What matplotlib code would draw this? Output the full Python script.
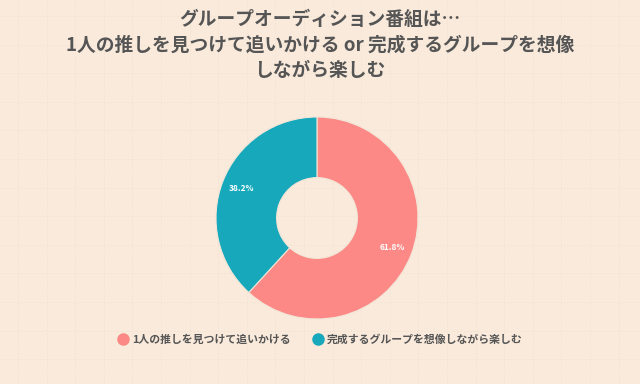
import numpy as np
import matplotlib.pyplot as plt
from matplotlib.lines import Line2D

plt.rcParams['font.family'] = ['Noto Sans CJK JP', 'DejaVu Sans']

# ── DATA ──────────────────────────────────────────────────────────────────────
TITLE = "グループオーディション番組は…\n1人の推しを見つけて追いかける or 完成するグループを想像\nしながら楽しむ"
LABELS = ["1人の推しを見つけて追いかける", "完成するグループを想像しながら楽しむ"]
VALUES = [61.8, 38.2]
COLORS = ["#fc8985", "#17a8bb"]

BG = "#f9eadb"
TEXT = "#555555"

fig = plt.figure(figsize=(6.4, 3.84), dpi=100)
fig.patch.set_facecolor(BG)

# faint background grid
bg = fig.add_axes([0, 0, 1, 1])
bg.set_xlim(0, 640)
bg.set_ylim(384, 0)
bg.axis("off")
for gx in np.arange(18, 640, 28.6):
    bg.axvline(gx, color="#f2e2d1", lw=0.6, ls=(0, (2, 2)), zorder=0)
for gy in np.arange(16, 384, 28.6):
    bg.axhline(gy, color="#f2e2d1", lw=0.6, ls=(0, (2, 2)), zorder=0)

# donut: centre (317, 218), outer radius ~101 px
r_px = 101
ax = fig.add_axes([(317 - r_px) / 640, 1 - (218 + r_px) / 384,
                   2 * r_px / 640, 2 * r_px / 384])
ax.set_facecolor("none")
wedges, _, autotexts = ax.pie(
    VALUES,
    colors=COLORS,
    startangle=90,
    counterclock=False,
    radius=1.0,
    wedgeprops=dict(width=0.6, edgecolor="#f3e6d8", linewidth=0.8),
    autopct=lambda p: f"{p:.1f}%",
    pctdistance=0.8,
    textprops=dict(color="white", fontsize=6, fontweight="bold"),
)
ax.set_xlim(-1, 1)
ax.set_ylim(-1, 1)
ax.set_aspect("equal")

fig.text(0.5, 1 - 45 / 384, TITLE, ha="center", va="center",
         fontsize=13.5, fontweight="bold", color=TEXT, linespacing=1.45)

handles = [Line2D([], [], marker="o", ls="", markersize=8,
                  markerfacecolor=c, markeredgecolor=c) for c in COLORS]
fig.legend(handles, LABELS, loc="center", bbox_to_anchor=(0.5, 1 - 340 / 384),
           ncol=2, frameon=False, labelcolor=TEXT,
           handletextpad=0.3, columnspacing=2.0, handlelength=1.0,
           prop=dict(weight="bold", size=7.8))

fig.savefig("out.png", dpi=100, facecolor=BG)
